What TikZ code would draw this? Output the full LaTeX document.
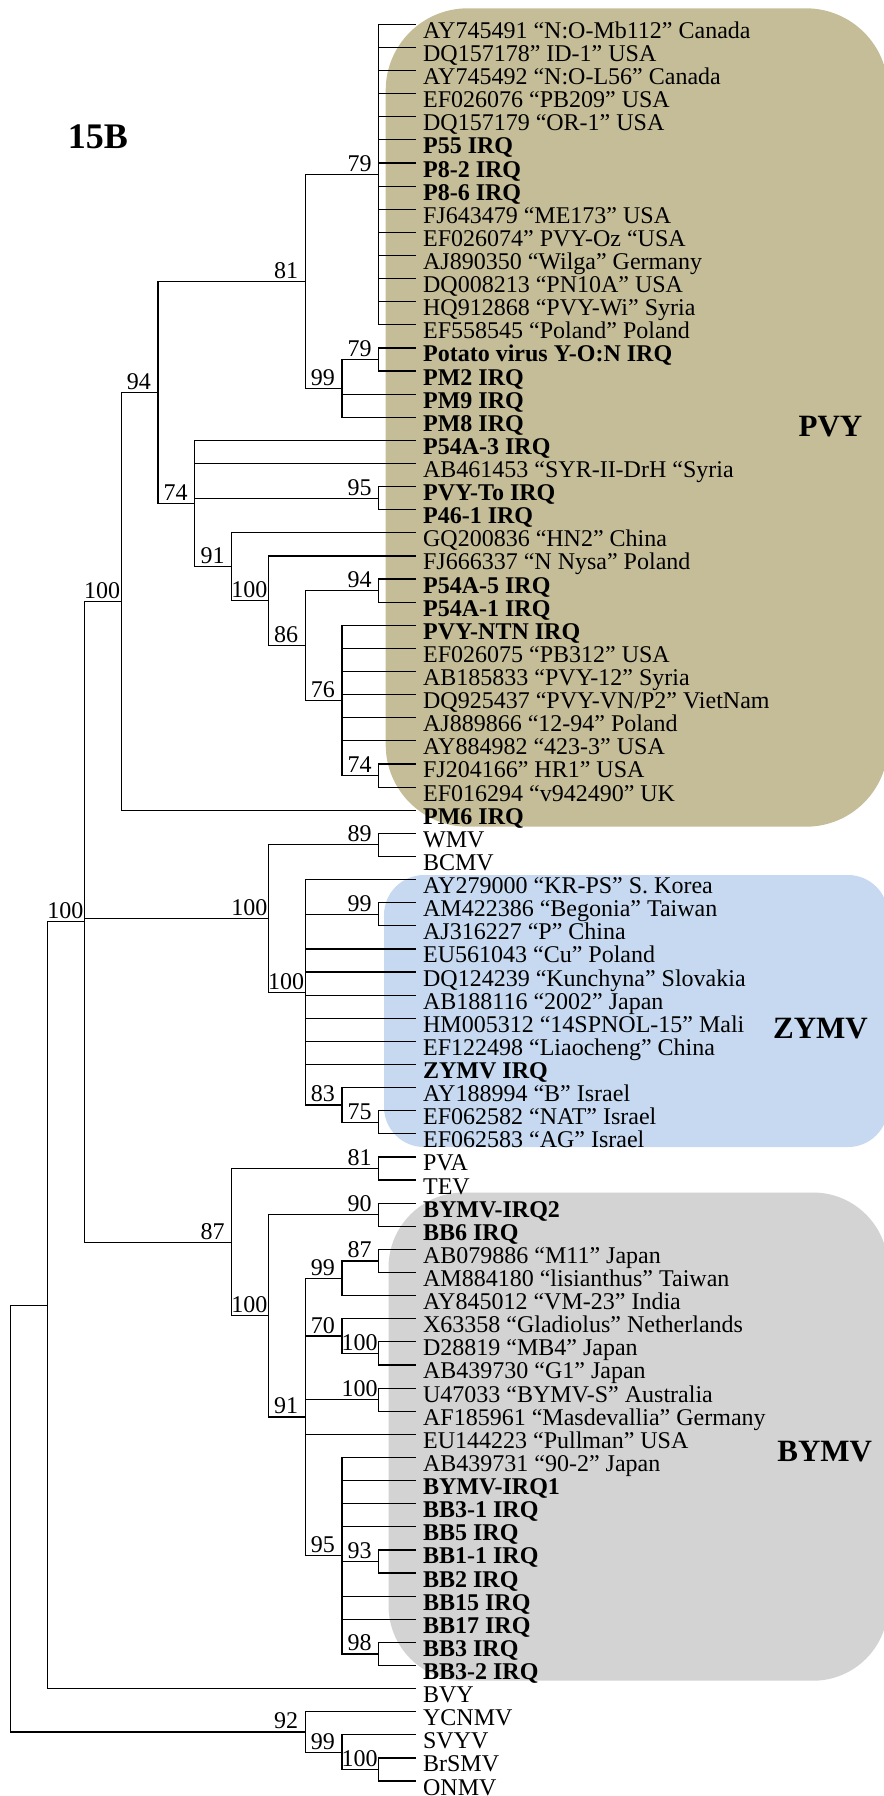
\documentclass[tikz,border=0pt]{standalone}
\usepackage{fontspec}
\setmainfont{Liberation Serif}
\usetikzlibrary{calc}
\definecolor{pvycol}{RGB}{196,189,151}
\definecolor{zymvcol}{RGB}{198,217,240}
\definecolor{bymvcol}{RGB}{211,211,211}
\tikzset{
 br/.style={draw=black, line width=0.6pt},
 leaflbl/.style={font=\fontsize{12}{12}\selectfont, inner sep=0pt, anchor=base west},
 leafbold/.style={leaflbl, font=\fontsize{12}{12}\selectfont\bfseries},
 bsl/.style={font=\fontsize{12}{12}\selectfont, inner sep=0pt, anchor=base},
 clade/.style={font=\fontsize{15.5}{15.5}\selectfont\bfseries, inner sep=0pt, anchor=base},
}
\newcommand\leafnode[3]{%
  \coordinate (t#1) at (415.5,{24.3+(#1-1)*23.115});
  \node[#2] (l#1) at (422.7,{38.3+(#1-1)*23.115}) {#3};}
\newcommand\innode[4]{\path ($(#3)!0.5!(#4)$) coordinate (tmp); \coordinate (#1) at (C#2 |- tmp);}
\newcommand\bslabel[2]{\node[bsl] (b#1) at ([xshift=-9.5pt,yshift=1.5pt]#1) {#2};}
\newcommand\kids[2]{\foreach \c in {#2} {\draw[br] (#1) |- (\c);}}
\begin{document}
\begin{tikzpicture}[x=0.5pt,y=-0.5pt]
\useasboundingbox (0,0) rectangle (884,1796);
\clip (0,0) rectangle (884,1796);
% clade backgrounds
\fill[pvycol, rounded corners=41pt] (385.7,8.3) rectangle (888,826.7);
\fill[zymvcol, rounded corners=20pt] (384,875) rectangle (888,1147);
\fill[bymvcol, rounded corners=37.5pt] (388.5,1192.5) rectangle (888,1680.7);
% columns
\foreach \k in {0,...,11} {\coordinate (C\k) at ({10.7+\k*36.8},0);}
% leaves
\leafnode{1}{leaflbl}{AY745491 “N:O-Mb112” Canada}
\leafnode{2}{leaflbl}{DQ157178” ID-1” USA}
\leafnode{3}{leaflbl}{AY745492 “N:O-L56” Canada}
\leafnode{4}{leaflbl}{EF026076 “PB209” USA}
\leafnode{5}{leaflbl}{DQ157179 “OR-1” USA}
\leafnode{6}{leafbold}{P55 IRQ}
\leafnode{7}{leafbold}{P8-2 IRQ}
\leafnode{8}{leafbold}{P8-6 IRQ}
\leafnode{9}{leaflbl}{FJ643479 “ME173” USA}
\leafnode{10}{leaflbl}{EF026074” PVY-Oz “USA}
\leafnode{11}{leaflbl}{AJ890350 “Wilga” Germany}
\leafnode{12}{leaflbl}{DQ008213 “PN10A” USA}
\leafnode{13}{leaflbl}{HQ912868 “PVY-Wi” Syria}
\leafnode{14}{leaflbl}{EF558545 “Poland” Poland}
\leafnode{15}{leafbold}{Potato virus Y-O:N IRQ}
\leafnode{16}{leafbold}{PM2 IRQ}
\leafnode{17}{leafbold}{PM9 IRQ}
\leafnode{18}{leafbold}{PM8 IRQ}
\leafnode{19}{leafbold}{P54A-3 IRQ}
\leafnode{20}{leaflbl}{AB461453 “SYR-II-DrH “Syria}
\leafnode{21}{leafbold}{PVY-To IRQ}
\leafnode{22}{leafbold}{P46-1 IRQ}
\leafnode{23}{leaflbl}{GQ200836 “HN2” China}
\leafnode{24}{leaflbl}{FJ666337 “N Nysa” Poland}
\leafnode{25}{leafbold}{P54A-5 IRQ}
\leafnode{26}{leafbold}{P54A-1 IRQ}
\leafnode{27}{leafbold}{PVY-NTN IRQ}
\leafnode{28}{leaflbl}{EF026075 “PB312” USA}
\leafnode{29}{leaflbl}{AB185833 “PVY-12” Syria}
\leafnode{30}{leaflbl}{DQ925437 “PVY-VN/P2” VietNam}
\leafnode{31}{leaflbl}{AJ889866 “12-94” Poland}
\leafnode{32}{leaflbl}{AY884982 “423-3” USA}
\leafnode{33}{leaflbl}{FJ204166” HR1” USA}
\leafnode{34}{leaflbl}{EF016294 “v942490” UK}
\leafnode{35}{leafbold}{PM6 IRQ}
\leafnode{36}{leaflbl}{WMV}
\leafnode{37}{leaflbl}{BCMV}
\leafnode{38}{leaflbl}{AY279000 “KR-PS” S. Korea}
\leafnode{39}{leaflbl}{AM422386 “Begonia” Taiwan}
\leafnode{40}{leaflbl}{AJ316227 “P” China}
\leafnode{41}{leaflbl}{EU561043 “Cu” Poland}
\leafnode{42}{leaflbl}{DQ124239 “Kunchyna” Slovakia}
\leafnode{43}{leaflbl}{AB188116 “2002” Japan}
\leafnode{44}{leaflbl}{HM005312 “14SPNOL-15” Mali}
\leafnode{45}{leaflbl}{EF122498 “Liaocheng” China}
\leafnode{46}{leafbold}{ZYMV IRQ}
\leafnode{47}{leaflbl}{AY188994 “B” Israel}
\leafnode{48}{leaflbl}{EF062582 “NAT” Israel}
\leafnode{49}{leaflbl}{EF062583 “AG” Israel}
\leafnode{50}{leaflbl}{PVA}
\leafnode{51}{leaflbl}{TEV}
\leafnode{52}{leafbold}{BYMV-IRQ2}
\leafnode{53}{leafbold}{BB6 IRQ}
\leafnode{54}{leaflbl}{AB079886 “M11” Japan}
\leafnode{55}{leaflbl}{AM884180 “lisianthus” Taiwan}
\leafnode{56}{leaflbl}{AY845012 “VM-23” India}
\leafnode{57}{leaflbl}{X63358 “Gladiolus” Netherlands}
\leafnode{58}{leaflbl}{D28819 “MB4” Japan}
\leafnode{59}{leaflbl}{AB439730 “G1” Japan}
\leafnode{60}{leaflbl}{U47033 “BYMV-S” Australia}
\leafnode{61}{leaflbl}{AF185961 “Masdevallia” Germany}
\leafnode{62}{leaflbl}{EU144223 “Pullman” USA}
\leafnode{63}{leaflbl}{AB439731 “90-2” Japan}
\leafnode{64}{leafbold}{BYMV-IRQ1}
\leafnode{65}{leafbold}{BB3-1 IRQ}
\leafnode{66}{leafbold}{BB5 IRQ}
\leafnode{67}{leafbold}{BB1-1 IRQ}
\leafnode{68}{leafbold}{BB2 IRQ}
\leafnode{69}{leafbold}{BB15 IRQ}
\leafnode{70}{leafbold}{BB17 IRQ}
\leafnode{71}{leafbold}{BB3 IRQ}
\leafnode{72}{leafbold}{BB3-2 IRQ}
\leafnode{73}{leaflbl}{BVY}
\leafnode{74}{leaflbl}{YCNMV}
\leafnode{75}{leaflbl}{SVYV}
\leafnode{76}{leaflbl}{BrSMV}
\leafnode{77}{leaflbl}{ONMV}
% internal nodes
\innode{N79a}{10}{t1}{t14}
\innode{N79b}{10}{t15}{t16}
\innode{N99a}{9}{N79b}{t18}
\innode{N81}{8}{N79a}{N99a}
\innode{N95}{10}{t21}{t22}
\innode{N94b}{10}{t25}{t26}
\innode{N74b}{10}{t33}{t34}
\innode{N76}{9}{t27}{N74b}
\innode{N86}{8}{N94b}{N76}
\innode{N100a}{7}{t24}{N86}
\innode{N91}{6}{t23}{N100a}
\innode{N74}{5}{t19}{N91}
\innode{N94}{4}{N81}{N74}
\innode{NC}{3}{N94}{t35}
\innode{N89}{10}{t36}{t37}
\innode{N99z}{10}{t39}{t40}
\innode{N75}{10}{t48}{t49}
\innode{N83}{9}{t47}{N75}
\innode{N100z}{8}{t38}{N83}
\innode{NZ}{7}{N89}{N100z}
\innode{N81b}{10}{t50}{t51}
\innode{N90}{10}{t52}{t53}
\innode{N87}{10}{t54}{t55}
\innode{N99b}{9}{N87}{t56}
\innode{N100c}{10}{t58}{t59}
\innode{N70}{9}{t57}{N100c}
\innode{N100b}{10}{t60}{t61}
\innode{N93}{10}{t67}{t68}
\innode{N98}{10}{t71}{t72}
\innode{N95b}{9}{t63}{N98}
\innode{N91b}{8}{N99b}{N95b}
\innode{N100e}{7}{N90}{N91b}
\innode{NE}{6}{N81b}{N100e}
\innode{NB}{2}{NC}{NE}
\innode{NA}{1}{NB}{t73}
\innode{N100d}{10}{t76}{t77}
\innode{N99c}{9}{t75}{N100d}
\innode{N92}{8}{t74}{N99c}
\innode{NR}{0}{NA}{N92}
% branches
\kids{NR}{NA,N92}
\kids{NA}{NB,t73}
\kids{NB}{NC,NZ,NE}
\kids{NC}{N94,t35}
\kids{N94}{N81,N74}
\kids{N81}{N79a,N99a}
\kids{N79a}{t1,t2,t3,t4,t5,t6,t7,t8,t9,t10,t11,t12,t13,t14}
\kids{N99a}{N79b,t17,t18}
\kids{N79b}{t15,t16}
\kids{N74}{t19,t20,N95,N91}
\kids{N95}{t21,t22}
\kids{N91}{t23,N100a}
\kids{N100a}{t24,N86}
\kids{N86}{N94b,N76}
\kids{N94b}{t25,t26}
\kids{N76}{t27,t28,t29,t30,t31,t32,N74b}
\kids{N74b}{t33,t34}
\kids{NZ}{N89,N100z}
\kids{N89}{t36,t37}
\kids{N100z}{t38,N99z,t41,t42,t43,t44,t45,t46,N83}
\kids{N99z}{t39,t40}
\kids{N83}{t47,N75}
\kids{N75}{t48,t49}
\kids{NE}{N81b,N100e}
\kids{N81b}{t50,t51}
\kids{N100e}{N90,N91b}
\kids{N90}{t52,t53}
\kids{N91b}{N99b,N70,N100b,t62,N95b}
\kids{N99b}{N87,t56}
\kids{N87}{t54,t55}
\kids{N70}{t57,N100c}
\kids{N100c}{t58,t59}
\kids{N100b}{t60,t61}
\kids{N95b}{t63,t64,t65,t66,N93,t69,t70,N98}
\kids{N93}{t67,t68}
\kids{N98}{t71,t72}
\kids{N92}{t74,N99c}
\kids{N99c}{t75,N100d}
\kids{N100d}{t76,t77}
% bootstrap values
\bslabel{N79a}{79} \bslabel{N79b}{79} \bslabel{N99a}{99} \bslabel{N81}{81}
\bslabel{N94}{94} \bslabel{NC}{100} \bslabel{N74}{74} \bslabel{N95}{95}
\bslabel{N91}{91} \bslabel{N100a}{100} \bslabel{N94b}{94} \bslabel{N86}{86}
\bslabel{N76}{76} \bslabel{N74b}{74} \bslabel{NB}{100} \bslabel{N89}{89}
\bslabel{NZ}{100} \bslabel{N99z}{99} \bslabel{N100z}{100} \bslabel{N83}{83}
\bslabel{N75}{75} \bslabel{N81b}{81} \bslabel{NE}{87} \bslabel{N90}{90}
\bslabel{N100e}{100} \bslabel{N87}{87} \bslabel{N99b}{99} \bslabel{N70}{70}
\bslabel{N100c}{100} \bslabel{N100b}{100} \bslabel{N91b}{91} \bslabel{N95b}{95}
\bslabel{N93}{93} \bslabel{N98}{98} \bslabel{N92}{92} \bslabel{N99c}{99}
\bslabel{N100d}{100}
% titles
\node[clade, font=\fontsize{18}{18}\selectfont\bfseries] (title) at (98,148.3) {15B};
\node[clade] (pvy) at (830.5,436) {PVY};
\node[clade] (zymv) at (820.5,1038.3) {ZYMV};
\node[clade] (bymv) at (824.7,1461.7) {BYMV};
\end{tikzpicture}
\end{document}
